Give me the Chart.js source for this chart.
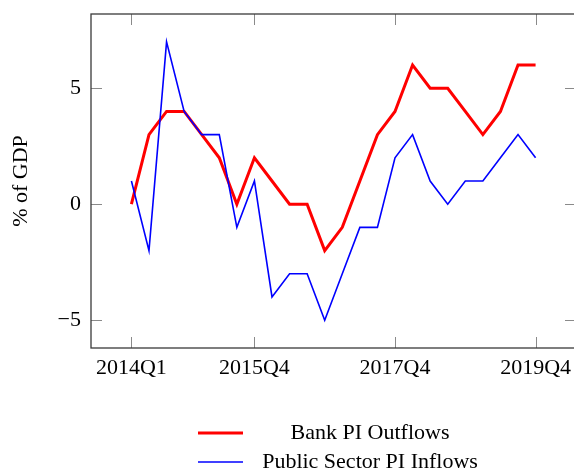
<!DOCTYPE html>
<html>
<head>
<meta charset="utf-8">
<script src="https://cdn.jsdelivr.net/npm/chart.js@4"></script>
<style>
  html, body { margin: 0; padding: 0; background: #fff; overflow: hidden; }
  #wrap { width: 574px; height: 471px; overflow: hidden; }
</style>
</head>
<body>
<div id="wrap"><canvas id="piChart" width="580" height="471"></canvas></div>
<script>
const quarters = [
  '2014Q1', '2014Q2', '2014Q3', '2014Q4',
  '2015Q1', '2015Q2', '2015Q3', '2015Q4',
  '2016Q1', '2016Q2', '2016Q3', '2016Q4',
  '2017Q1', '2017Q2', '2017Q3', '2017Q4',
  '2018Q1', '2018Q2', '2018Q3', '2018Q4',
  '2019Q1', '2019Q2', '2019Q3', '2019Q4'
];
const bankOutflows  = [0, 3, 4, 4, 3, 2, 0, 2, 1, 0, 0, -2, -1, 1, 3, 4, 6, 5, 5, 4, 3, 4, 6, 6];
const publicInflows = [1, -2, 7, 4, 3, 3, -1, 1, -4, -3, -3, -5, -3, -1, -1, 2, 3, 1, 0, 1, 1, 2, 3, 2];
const xTickLabels = ['2014Q1', '2015Q4', '2017Q4', '2019Q4'];
const yTickValues = [-5, 0, 5];

const FONT = '"Liberation Serif", "DejaVu Serif", serif';
const FONT_SIZE = 22;
const toPoints = arr => arr.map((v, i) => ({ x: i, y: v }));

// box around the plot with ticks pointing inwards on all four sides
const framePlugin = {
  id: 'frame',
  afterDatasetsDraw(chart) {
    const { ctx, chartArea: a, scales } = chart;
    const len = 11;
    ctx.save();
    ctx.strokeStyle = '#8a8a8a';
    ctx.lineWidth = 1;
    ctx.beginPath();
    scales.x.ticks.forEach(t => {
      const px = Math.round(scales.x.getPixelForValue(t.value)) + 0.5;
      ctx.moveTo(px, a.bottom); ctx.lineTo(px, a.bottom - len);
      ctx.moveTo(px, a.top); ctx.lineTo(px, a.top + len);
    });
    scales.y.ticks.forEach(t => {
      const py = Math.round(scales.y.getPixelForValue(t.value)) + 0.5;
      ctx.moveTo(a.left, py); ctx.lineTo(a.left + len, py);
      ctx.moveTo(a.right, py); ctx.lineTo(a.right - len, py);
    });
    ctx.stroke();
    ctx.strokeStyle = '#3a3a3a';
    ctx.lineWidth = 1.3;
    ctx.strokeRect(a.left, a.top, a.right - a.left, a.bottom - a.top);
    ctx.restore();
  },
  afterDraw(chart) {
    // legend under the axis, text centred in its column
    const { ctx } = chart;
    const rows = [433, 462];
    ctx.save();
    ctx.font = FONT_SIZE + 'px ' + FONT;
    ctx.textBaseline = 'middle';
    ctx.textAlign = 'center';
    chart.data.datasets.forEach((ds, i) => {
      const y = rows[i];
      ctx.strokeStyle = ds.borderColor;
      ctx.lineWidth = ds.borderWidth;
      ctx.beginPath();
      ctx.moveTo(198, y); ctx.lineTo(243, y);
      ctx.stroke();
      ctx.fillStyle = '#000';
      ctx.fillText(ds.label, 370, y);
    });
    ctx.restore();
  }
};

new Chart(document.getElementById('piChart'), {
  type: 'line',
  data: {
    datasets: [
      {
        label: 'Bank PI Outflows',
        data: toPoints(bankOutflows),
        borderColor: '#ff0000',
        borderWidth: 3,
        pointRadius: 0,
        tension: 0,
        order: 2
      },
      {
        label: 'Public Sector PI Inflows',
        data: toPoints(publicInflows),
        borderColor: '#0000ff',
        borderWidth: 1.6,
        pointRadius: 0,
        tension: 0,
        order: 1
      }
    ]
  },
  options: {
    responsive: false,
    animation: false,
    devicePixelRatio: 1,
    layout: { padding: { top: 14, right: 4, left: 0, bottom: 0 } },
    plugins: { legend: { display: false }, tooltip: { enabled: false } },
    scales: {
      x: {
        type: 'linear',
        min: -2.3,
        max: 25.3,
        grid: { display: false, drawTicks: false },
        border: { display: false },
        afterBuildTicks: s => { s.ticks = xTickLabels.map(q => ({ value: quarters.indexOf(q) })); },
        afterFit: s => { s.height = 123; s.paddingLeft = 0; s.paddingRight = 0; },
        ticks: {
          color: '#000',
          font: { family: FONT, size: FONT_SIZE },
          padding: 7,
          maxRotation: 0,
          autoSkip: false,
          callback: v => quarters[v]
        }
      },
      y: {
        min: -6.2,
        max: 8.2,
        grid: { display: false, drawTicks: false },
        border: { display: false },
        afterBuildTicks: s => { s.ticks = yTickValues.map(v => ({ value: v })); },
        afterFit: s => { s.width = 91; s.paddingTop = 0; s.paddingBottom = 0; },
        ticks: {
          color: '#000',
          font: { family: FONT, size: FONT_SIZE },
          padding: 10,
          callback: v => (v < 0 ? '\u2212' + Math.abs(v) : String(v))
        },
        title: {
          display: true,
          text: '% of GDP',
          color: '#000',
          font: { family: FONT, size: FONT_SIZE },
          padding: { top: 8, bottom: 0 }
        }
      }
    }
  },
  plugins: [framePlugin]
});
</script>
</body>
</html>
